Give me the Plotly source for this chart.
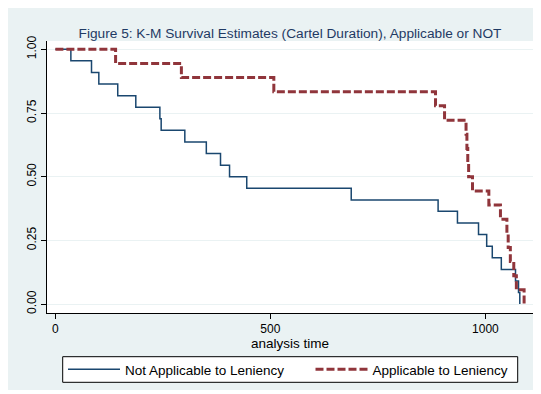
import plotly.graph_objects as go

# Kaplan-Meier step data
not_app_time = [0, 36, 84, 101, 145, 187, 243, 246, 301, 351, 384, 405, 445,
                688, 890, 935, 984, 1003, 1016, 1037, 1070, 1077, 1080]
not_app_surv = [1.0, 0.955, 0.909, 0.864, 0.818, 0.773, 0.727, 0.682, 0.636,
                0.591, 0.545, 0.5, 0.455, 0.409, 0.364, 0.318, 0.273, 0.227,
                0.182, 0.136, 0.091, 0.045, 0.0]

app_time = [0, 140, 293, 508, 884, 905, 955, 957, 959, 961, 970, 1008, 1035,
            1050, 1053, 1058, 1066, 1072, 1090]
app_surv = [1.0, 0.944, 0.889, 0.833, 0.778, 0.722, 0.667, 0.611, 0.556, 0.5,
            0.444, 0.389, 0.333, 0.278, 0.222, 0.167, 0.111, 0.056, 0.0]

y_ticks = [0, 0.25, 0.5, 0.75, 1.0]
y_tick_labels = ["0.00", "0.25", "0.50", "0.75", "1.00"]
x_ticks = [0, 500, 1000]
x_tick_labels = ["0", "500", "1000"]

series_names = ["Not Applicable to Leniency", "Applicable to Leniency"]
title_text = "Figure 5: K-M Survival Estimates (Cartel Duration), Applicable or NOT"
x_title = "analysis time"

BG = "#eaf2f3"
NAVY = "#1a476f"
MAROON = "#90353b"
FONT = "Liberation Sans, Arial, sans-serif"

# The page body has an 8px margin, so the figure is sized to fit the window.
OFF = 8
W, H = 541 - OFF, 394 - OFF
# plot area in page pixels: x 47..533, y 41..313
L, R, T, B = 47 - OFF, 541 - 533, 41 - OFF, 394 - 313
pw, ph = W - L - R, H - T - B


def px_x(p):  # page pixel -> paper x
    return (p - OFF - L) / pw


def px_y(p):  # page pixel -> paper y
    return (H - B - (p - OFF)) / ph


fig = go.Figure()
fig.add_trace(go.Scatter(x=not_app_time, y=not_app_surv, mode="lines",
                         line=dict(shape="hv", color=NAVY, width=1.5),
                         name=series_names[0], legend="legend", showlegend=True))
fig.add_trace(go.Scatter(x=app_time, y=app_surv, mode="lines",
                         line=dict(shape="hv", color=MAROON, width=3, dash="8px,3px"),
                         name=series_names[1], legend="legend2", showlegend=True))

legend_common = dict(orientation="h", xanchor="left", yanchor="middle",
                     bgcolor="rgba(0,0,0,0)", borderwidth=0, visible=True,
                     font=dict(size=13.5, family=FONT), itemwidth=52)

fig.update_layout(
    width=W, height=H,
    showlegend=True,
    margin=dict(l=L, r=R, t=T, b=B, autoexpand=False),
    paper_bgcolor="white",
    plot_bgcolor="rgba(0,0,0,0)",
    font=dict(family=FONT, size=12, color="black"),
    title=dict(text=title_text, x=0.5, xref="paper", xanchor="center",
               y=1 - (32.8 - OFF) / H, yref="container", yanchor="middle",
               font=dict(size=13.7, color="#1f3a64", family=FONT)),
    shapes=[
        dict(type="rect", xref="paper", yref="paper", layer="below",
             x0=px_x(7), x1=px_x(535), y0=px_y(390), y1=px_y(7),
             fillcolor=BG, line=dict(width=0)),
        dict(type="rect", xref="paper", yref="paper", layer="below",
             x0=0, x1=1, y0=0, y1=1, fillcolor="white", line=dict(width=0)),
        dict(type="rect", xref="paper", yref="paper", layer="above",
             x0=px_x(62.7), x1=px_x(517.7), y0=px_y(382.3), y1=px_y(356.7),
             fillcolor="white", line=dict(color="black", width=1)),
    ],
    xaxis=dict(range=[-19.5, 1110.7], tickvals=x_ticks, ticktext=x_tick_labels,
               showgrid=False, zeroline=False, showline=True, linecolor="black",
               linewidth=1, ticks="outside", ticklen=5, tickcolor="black",
               automargin=False,
               tickfont=dict(size=12, family=FONT),
               title=dict(text=x_title, standoff=2, font=dict(size=13.5, family=FONT))),
    yaxis=dict(range=[-0.035, 1.0326], tickvals=y_ticks, ticktext=y_tick_labels,
               tickangle=-90, showgrid=True, gridcolor=BG, gridwidth=1.3,
               zeroline=False, showline=True, linecolor="black", linewidth=1,
               ticks="outside", ticklen=5, tickcolor="black", automargin=False,
               tickfont=dict(size=12, family=FONT)),
    legend=dict(x=px_x(63), y=px_y(369.5), **legend_common),
    legend2=dict(x=px_x(310.5), y=px_y(369.5), **legend_common),
)

fig.write_html("out.html")
